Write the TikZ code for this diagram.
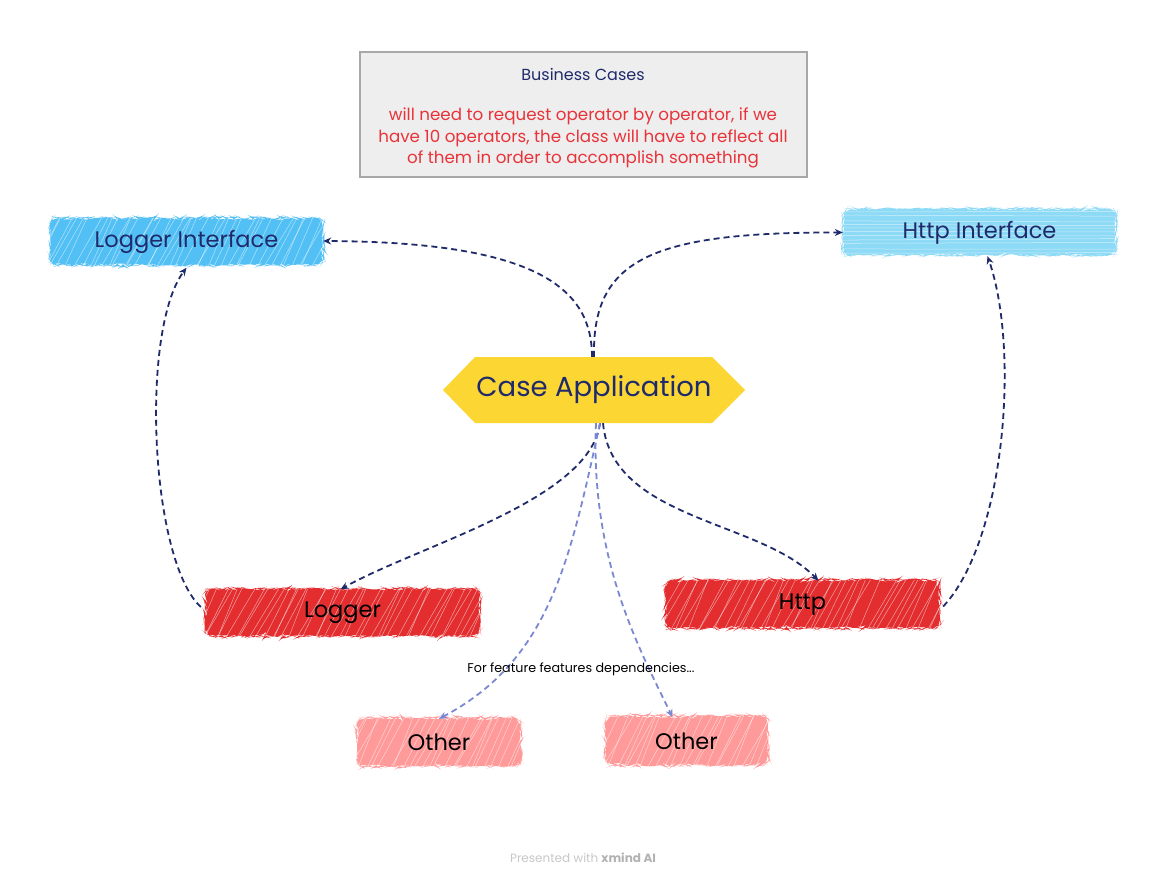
\documentclass[tikz,border=0pt]{standalone}
\usepackage{fontspec}
\setmainfont{Poppins}
\usetikzlibrary{arrows.meta,decorations.pathmorphing}
\definecolor{navy}{HTML}{1F2A6B}
\definecolor{bcred}{HTML}{E8333A}
\definecolor{lblue}{HTML}{52C0F5}
\definecolor{hblue}{HTML}{8CDAF6}
\definecolor{yel}{HTML}{FCD734}
\definecolor{rred}{HTML}{E32D2F}
\definecolor{pink}{HTML}{FF9A9A}
\definecolor{peri}{HTML}{7C88D2}
\newcommand{\scrib}[5]{%
  \fill[#5, decorate, decoration={random steps, segment length=3pt, amplitude=1.2pt}, rounded corners=7pt] (#1,#2) rectangle (#3,#4);
  \begin{scope}
    \clip (#1,#2) rectangle (#3,#4);
    \foreach \k in {-40,-33,...,330} {
      \pgfmathsetmacro{\xx}{#1+\k+4*rand}
      \draw[white, opacity=0.55, line width=0.5pt] (\xx,#4+2) -- ++(26+6*rand,-52);
    }
  \end{scope}}
\newcommand{\scribh}[5]{%
  \fill[#5, decorate, decoration={random steps, segment length=3pt, amplitude=1pt}, rounded corners=7pt] (#1,#2) rectangle (#3,#4);
  \begin{scope}
    \clip (#1,#2) rectangle (#3,#4);
    \foreach \k in {3,7,...,46} {
      \pgfmathsetmacro{\yy}{#2+\k+1.5*rand}
      \draw[white, opacity=0.6, line width=0.5pt] (#1-5,\yy) -- (#3+5,\yy+1.5*rand);
    }
  \end{scope}}
\newcommand{\lowr}[1]{\raisebox{-2.5pt}{#1}}
\tikzset{
  conn/.style={navy, line width=1.8pt, dash pattern=on 6pt off 4pt, -{Stealth[length=8pt,width=7pt]}},
  lconn/.style={peri, line width=1.8pt, dash pattern=on 6pt off 4pt, -{Stealth[length=8pt,width=7pt]}},
  box/.style={minimum width=#1, minimum height=47pt, inner sep=0pt},
  lbl/.style={font=\fontsize{22.5}{26}\selectfont}
}
\pgfmathsetseed{7}
\begin{document}
\begin{tikzpicture}[x=1pt,y=-1pt]
\useasboundingbox[fill=white] (0,0) rectangle (1166,884);

% Business cases
\node[draw={rgb,255:red,168;green,168;blue,168}, line width=1.8pt, fill={rgb,255:red,238;green,238;blue,238}, minimum width=447pt, minimum height=125pt] (bc) at (583.5,114.5) {};
\node[navy, font=\fontsize{16}{19}\selectfont] (bct) at (583,74) {Business Cases};
\node[bcred, font=\fontsize{16.7}{21.3}\selectfont, align=center] (bcb) at (583,138) {will need to request operator by operator, if we\\have 10 operators, the class will have to reflect all\\of them in order to accomplish something};

% scribbles
\scrib{50}{218}{323}{265}{lblue}
\scribh{843}{209}{1116}{255}{hblue}
\scrib{205}{589}{480}{636}{rred}
\scrib{665}{580}{940}{628}{rred}
\scrib{357}{718}{521}{766}{pink}
\scrib{605}{716}{768}{765}{pink}

\node[box=273pt, navy, lbl] (li) at (186.5,242) {\lowr{Logger Interface}};
\node[box=273pt, navy, lbl] (hi) at (979.5,232.5) {\lowr{Http Interface}};
\node[box=275pt, lbl] (lg) at (342.5,613) {\lowr{Logger}};
\node[box=275pt, lbl] (ht) at (802.5,604.5) {\lowr{Http}};
\node[box=164pt, lbl] (o1) at (439,742.5) {Other};
\node[box=163pt, lbl] (o2) at (686.5,741) {Other};

% Case application hexagon
\fill[yel] (443,390) -- (475,357) -- (712,357) -- (745,390) -- (712,423) -- (475,423) -- cycle;
\node[navy, minimum width=302pt, minimum height=66pt, inner sep=0pt, font=\fontsize{27.5}{32}\selectfont] (ca) at (594,390) {\raisebox{-3pt}{Case Application}};

% connectors
\draw[conn] ([xshift=-2pt]ca.north) .. controls (592,290) and (540,242) .. ([yshift=1pt]li.east);
\draw[conn] ([xshift=0pt]ca.north) .. controls (592,260) and (650,232) .. (hi.west);
\draw[conn] ([xshift=6pt]ca.south) .. controls (590,500) and (420,545) .. ([xshift=-2pt]lg.north);
\draw[conn] ([xshift=9pt]ca.south) .. controls (612,520) and (760,520) .. ([xshift=16pt]ht.north);
\draw[conn] ([xshift=-4pt,yshift=6pt]lg.west) .. controls (150,560) and (140,330) .. ([yshift=-2pt]li.south);
\draw[conn] ([xshift=3pt,yshift=-2pt]ht.east) .. controls (1005,540) and (1020,350) .. ([xshift=8pt]hi.south);
\draw[lconn] ([xshift=6pt]ca.south) .. controls (570,560) and (550,660) .. (o1.north);
\draw[lconn] ([xshift=2pt]ca.south) .. controls (590,560) and (640,650) .. ([xshift=-14pt]o2.north);

\node[font=\fontsize{12.7}{15}\selectfont] (fl) at (581,669) {For feature features dependencies...};

\node[font=\fontsize{12}{14}\selectfont, text={rgb,255:red,200;green,200;blue,200}] (ft) at (583,858) {Presented with \textcolor[rgb]{0.7,0.7,0.7}{\textbf{xmind AI}}};
\end{tikzpicture}
\end{document}
